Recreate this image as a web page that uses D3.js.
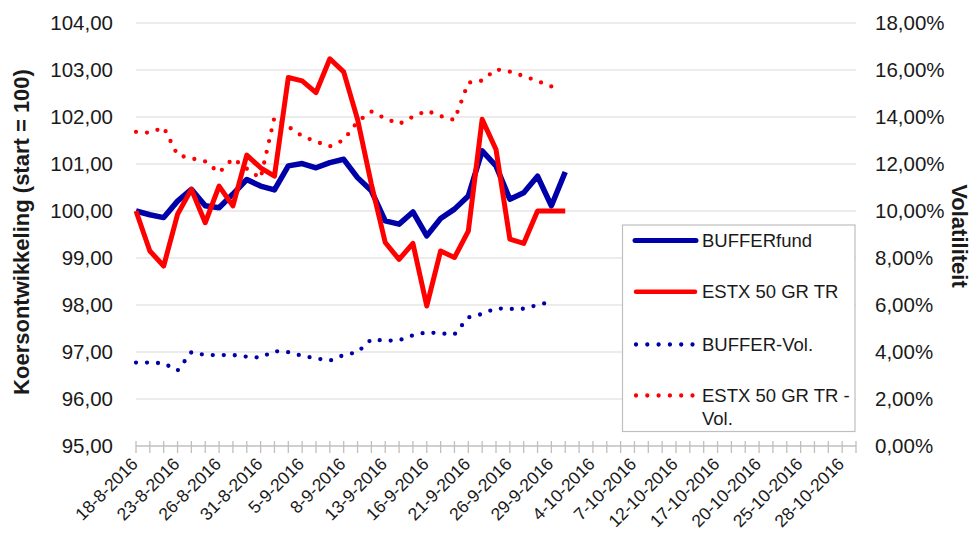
<!DOCTYPE html>
<html><head><meta charset="utf-8">
<script src="https://cdn.jsdelivr.net/npm/d3@7"></script>
<style>
body{margin:0;background:#fff}
text{font-family:"Liberation Sans",Arial,sans-serif;fill:#1a1a1a}
</style>
</head><body>
<svg id="c" width="972" height="533"></svg>
<script>
const dates = ["18-8-2016","19-8-2016","22-8-2016","23-8-2016","24-8-2016","25-8-2016","26-8-2016","29-8-2016","30-8-2016","31-8-2016",
"1-9-2016","2-9-2016","5-9-2016","6-9-2016","7-9-2016","8-9-2016","9-9-2016","12-9-2016","13-9-2016","14-9-2016","15-9-2016","16-9-2016",
"19-9-2016","20-9-2016","21-9-2016","22-9-2016","23-9-2016","26-9-2016","27-9-2016","28-9-2016","29-9-2016","30-9-2016",
"3-10-2016","4-10-2016","5-10-2016","6-10-2016","7-10-2016","10-10-2016","11-10-2016","12-10-2016","13-10-2016","14-10-2016",
"17-10-2016","18-10-2016","19-10-2016","20-10-2016","21-10-2016","24-10-2016","25-10-2016","26-10-2016","27-10-2016","28-10-2016","31-10-2016"];

const bufferFund = [100.00, 99.92, 99.86, 100.21, 100.46, 100.11, 100.07, 100.36, 100.67, 100.53,
  100.45, 100.96, 101.01, 100.92, 101.03, 101.10, 100.71, 100.43, 99.79, 99.72, 99.98, 99.47,
  99.84, 100.04, 100.32, 101.28, 100.96, 100.25, 100.39, 100.74, 100.11, 100.83];

const estx = [100.00, 99.15, 98.83, 99.93, 100.46, 99.75, 100.53, 100.11, 101.19, 100.92,
  100.74, 102.84, 102.77, 102.52, 103.24, 102.96, 101.95, 100.57, 99.33, 98.97, 99.31, 97.98,
  99.15, 99.01, 99.57, 101.95, 101.31, 99.40, 99.31, 100.00, 100.00, 100.00];

const bufferVol = [3.55, 3.55, 3.52, 3.21, 3.99, 3.87, 3.87, 3.87, 3.80, 3.76,
  4.04, 3.99, 3.84, 3.73, 3.63, 3.87, 3.99, 4.54, 4.48, 4.50, 4.71, 4.84,
  4.79, 4.75, 5.47, 5.62, 5.86, 5.83, 5.84, 6.00, 6.14];

const estxVol = [13.37, 13.33, 13.56, 12.38, 12.24, 12.11, 11.63, 12.23, 11.80, 11.39,
  13.99, 13.59, 13.19, 12.95, 12.75, 13.02, 13.80, 14.23, 13.94, 13.70, 14.01, 14.27,
  14.04, 13.87, 15.46, 15.55, 16.03, 15.93, 15.74, 15.53, 15.30];

const leftTicks = [95, 96, 97, 98, 99, 100, 101, 102, 103, 104];
const rightTicks = [0, 2, 4, 6, 8, 10, 12, 14, 16, 18];
const seriesNames = ["BUFFERfund", "ESTX 50 GR TR", "BUFFER-Vol.", "ESTX 50 GR TR - Vol."];

const BLUE = "#0000a8", RED = "#ff0000";
const loc = d3.formatLocale({decimal: ",", thousands: ".", grouping: [3], currency: ["€", ""]});
const f2 = loc.format(".2f");

const svg = d3.select("#c");
const L = 136, R = 856, T = 23, B = 446;
const x = d3.scalePoint().domain(dates).range([L, R]);
const yL = d3.scaleLinear().domain([95, 104]).range([B, T]);
const yR = d3.scaleLinear().domain([0, 18]).range([B, T]);

// gridlines
svg.append("g").selectAll("line").data(leftTicks.slice(1)).join("line")
  .attr("x1", L).attr("x2", R)
  .attr("y1", d => yL(d)).attr("y2", d => yL(d))
  .attr("stroke", "#d9d9d9").attr("stroke-width", 1.2);

// left axis
const gl = svg.append("g").attr("transform", `translate(${L},0)`)
  .call(d3.axisLeft(yL).tickValues(leftTicks).tickSize(0).tickPadding(23).tickFormat(f2));
gl.select(".domain").remove();
gl.selectAll("text").style("font-size", "20.5px").attr("fill", "#1a1a1a");

// right axis
const gr = svg.append("g").attr("transform", `translate(${R},0)`)
  .call(d3.axisRight(yR).tickValues(rightTicks).tickSize(0).tickPadding(19).tickFormat(d => f2(d) + "%"));
gr.select(".domain").remove();
gr.selectAll("text").style("font-size", "20.5px").attr("fill", "#1a1a1a");

// x axis
const gx = svg.append("g");
gx.append("line").attr("x1", L).attr("x2", R).attr("y1", B).attr("y2", B)
  .attr("stroke", "#bfbfbf").attr("stroke-width", 1.3);
gx.selectAll("line.tk").data(dates).join("line").attr("class", "tk")
  .attr("x1", d => x(d)).attr("x2", d => x(d)).attr("y1", B - 5).attr("y2", B + 7)
  .attr("stroke", "#bfbfbf").attr("stroke-width", 1.3);
gx.selectAll("text").data(dates.filter((d, i) => i % 3 === 0)).join("text")
  .attr("transform", d => `translate(${x(d) + 3},${B + 19}) rotate(-45)`)
  .attr("text-anchor", "end")
  .style("font-size", "17.5px")
  .text(d => d);

// titles
svg.append("text").attr("transform", "translate(29,232) rotate(-90)")
  .attr("text-anchor", "middle").style("font-size", "22px").style("font-weight", "bold")
  .text("Koersontwikkeling (start = 100)");
svg.append("text").attr("transform", "translate(952,236) rotate(90)")
  .attr("text-anchor", "middle").style("font-size", "22px").style("font-weight", "bold")
  .text("Volatiliteit");

// lines
const lineL = d3.line().x((d, i) => x(dates[i])).y(d => yL(d));
const lineR = d3.line().x((d, i) => x(dates[i])).y(d => yR(d));

svg.append("path").datum(bufferFund).attr("d", lineL).attr("fill", "none")
  .attr("stroke", BLUE).attr("stroke-width", 5.5).attr("stroke-linejoin", "round");
svg.append("path").datum(estx).attr("d", lineL).attr("fill", "none")
  .attr("stroke", RED).attr("stroke-width", 5).attr("stroke-linejoin", "round");
svg.append("path").datum(bufferVol).attr("d", lineR).attr("fill", "none")
  .attr("stroke", BLUE).attr("stroke-width", 4.3).attr("stroke-linecap", "round")
  .attr("stroke-dasharray", "0 11");
svg.append("path").datum(estxVol).attr("d", lineR).attr("fill", "none")
  .attr("stroke", RED).attr("stroke-width", 4.3).attr("stroke-linecap", "round")
  .attr("stroke-dasharray", "0 11");

// legend
const lg = svg.append("g");
lg.append("rect").attr("x", 622.5).attr("y", 225).attr("width", 232.5).attr("height", 206.5)
  .attr("fill", "#fff").attr("stroke", "#bfbfbf").attr("stroke-width", 1.2);
const legItems = [
  {name: seriesNames[0], color: BLUE, dotted: false, y: 240.5, x1: 635, x2: 696, w: 5},
  {name: seriesNames[1], color: RED, dotted: false, y: 291.7, x1: 636, x2: 695, w: 4.5},
  {name: seriesNames[2], color: BLUE, dotted: true, y: 344.5, x1: 636, x2: 693, w: 4.3},
  {name: seriesNames[3], color: RED, dotted: true, y: 395.5, x1: 636, x2: 693, w: 4.3}
];
legItems.forEach(it => {
  const ln = lg.append("line").attr("x1", it.x1).attr("x2", it.x2)
    .attr("y1", it.y).attr("y2", it.y).attr("stroke", it.color)
    .attr("stroke-width", it.w).attr("stroke-linecap", "round");
  if (it.dotted) ln.attr("stroke-dasharray", "0 11.3");
  const t = lg.append("text").attr("x", 702).attr("y", it.y).attr("dy", "0.35em")
    .style("font-size", "18.5px");
  if (it.name.endsWith(" Vol.")) {
    t.text("ESTX 50 GR TR -");
    lg.append("text").attr("x", 702).attr("y", it.y + 23).attr("dy", "0.35em")
      .style("font-size", "18.5px").text("Vol.");
  } else t.text(it.name);
});
</script>
</body></html>
